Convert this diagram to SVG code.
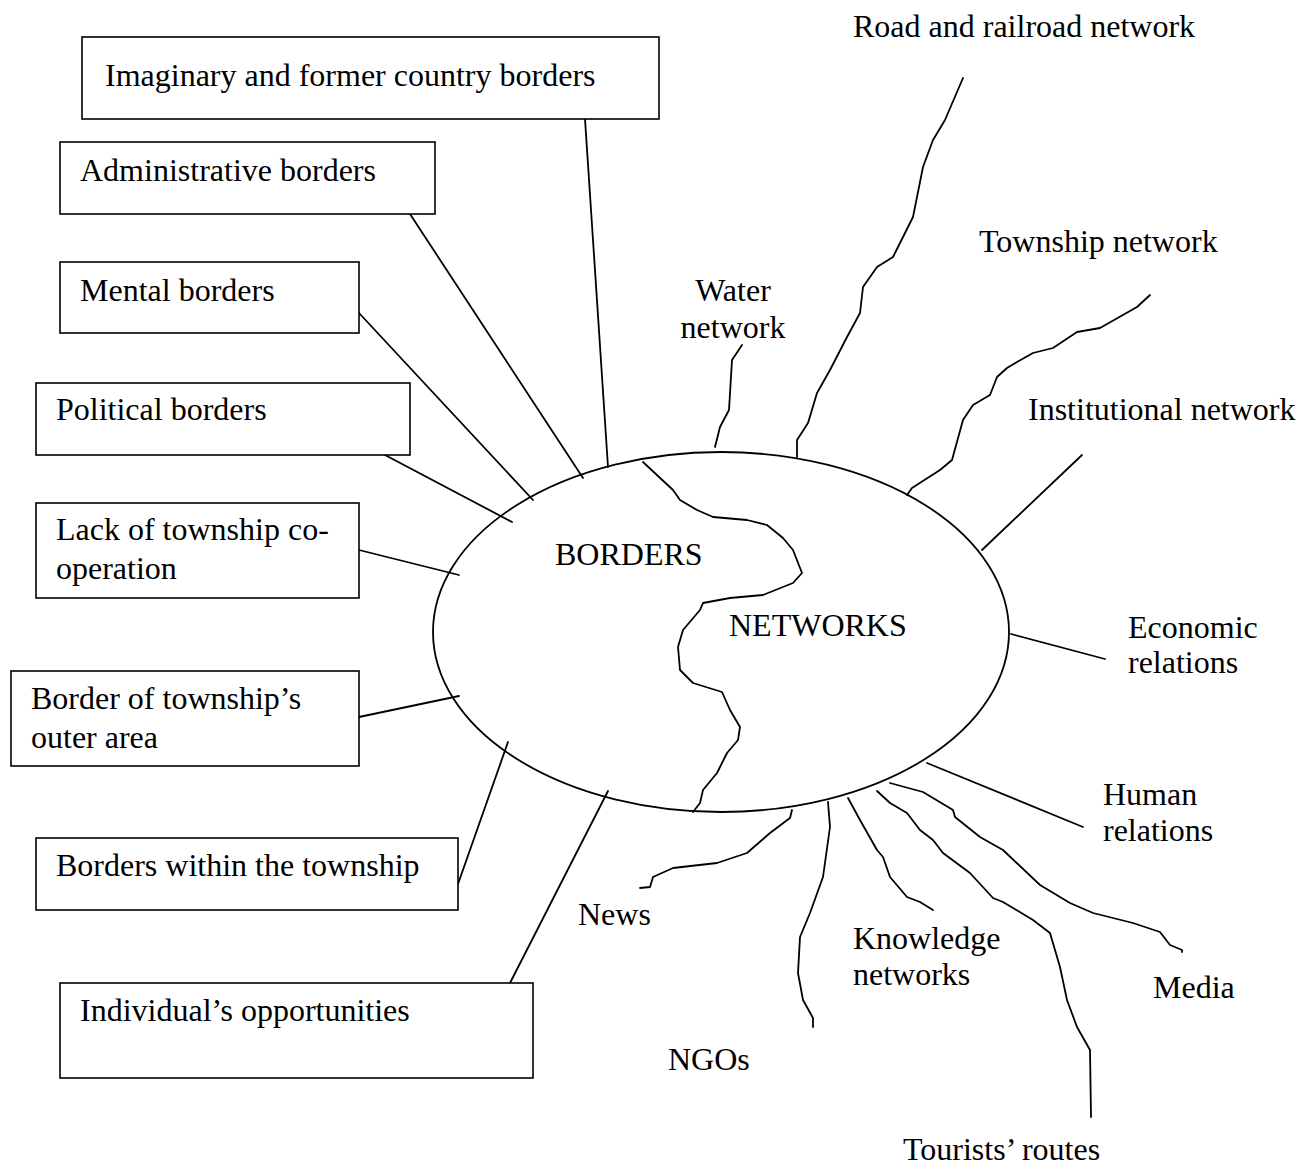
<svg xmlns="http://www.w3.org/2000/svg" width="1310" height="1172" viewBox="0 0 1310 1172">
<style>
text{font-family:"Liberation Serif","Times New Roman",serif;font-size:32px;fill:#000}
.box{fill:#fff;stroke:#000;stroke-width:1.6}
.ln{fill:none;stroke:#000;stroke-width:1.8;stroke-linejoin:round;stroke-linecap:round}
</style>
<rect width="1310" height="1172" fill="#fff"/>
<g id="connectors">
<line class="ln" x1="585" y1="119" x2="608" y2="467"/>
<line class="ln" x1="410" y1="214" x2="583" y2="478"/>
<line class="ln" x1="359" y1="313" x2="533" y2="500"/>
<line class="ln" x1="385" y1="455" x2="512" y2="522"/>
<line class="ln" x1="359" y1="550" x2="459" y2="575"/>
<line class="ln" x1="359" y1="717" x2="459" y2="696"/>
<line class="ln" x1="458" y1="884" x2="508" y2="742"/>
<line class="ln" x1="510" y1="983" x2="608" y2="791"/>
<line class="ln" x1="1082" y1="455" x2="982" y2="550"/>
<line class="ln" x1="1011" y1="634" x2="1105" y2="659"/>
<line class="ln" x1="927" y1="763" x2="1083" y2="827"/>
<path class="ln" d="M963,78 L945,120 L933,140 L923,167 L913,217 L898,247 L893,257 L877,267 L863,287 L860,313 L847,337 L830,370 L817,393 L808,423 L797,440 L797,457"/>
<path class="ln" d="M1150,295 L1137,307 L1100,328 L1077,332 L1053,348 L1033,353 L1017,362 L1007,368 L997,377 L990,395 L973,405 L963,420 L952,460 L940,470 L912,488 L907,495"/>
<path class="ln" d="M742,345 L732,360 L729,410 L720,427 L715,447"/>
<path class="ln" d="M792,810 L790,818 L770,833 L747,853 L717,863 L673,868 L653,877 L650,887 L640,888"/>
<path class="ln" d="M828,802 L830,827 L823,877 L810,913 L800,937 L798,973 L803,1000 L813,1018 L813,1027"/>
<path class="ln" d="M848,798 L860,820 L877,850 L883,857 L890,877 L907,897 L920,902 L933,910"/>
<path class="ln" d="M877,791 L890,803 L907,813 L920,830 L933,840 L943,853 L970,873 L993,898 L1003,902 L1033,920 L1050,933 L1060,967 L1067,1000 L1077,1027 L1090,1050 L1091,1117"/>
<path class="ln" d="M890,783 L923,792 L953,810 L955,817 L980,837 L1003,850 L1040,885 L1070,903 L1093,913 L1133,923 L1160,932 L1170,945 L1182,950 L1182,952"/>
</g>
<g id="center">
<ellipse cx="721" cy="632" rx="288" ry="180" fill="none" stroke="#000" stroke-width="1.8"/>
<path class="ln" d="M643,462 L673,490 L680,500 L697,510 L713,517 L747,520 L767,525 L783,538 L793,550 L802,573 L793,583 L763,595 L730,598 L703,603 L700,610 L683,630 L678,647 L680,670 L693,683 L722,692 L730,710 L740,727 L738,740 L727,753 L717,773 L703,790 L700,803 L693,812"/>
<text x="555" y="565">BORDERS</text>
<text x="729" y="636">NETWORKS</text>
</g>
<g id="n1"><rect class="box" x="82" y="37" width="577" height="82"/><text x="105" y="86">Imaginary and former country borders</text></g>
<g id="n2"><rect class="box" x="60" y="142" width="375" height="72"/><text x="80" y="181">Administrative borders</text></g>
<g id="n3"><rect class="box" x="60" y="262" width="299" height="71"/><text x="80" y="301">Mental borders</text></g>
<g id="n4"><rect class="box" x="36" y="383" width="374" height="72"/><text x="56" y="420">Political borders</text></g>
<g id="n5"><rect class="box" x="36" y="503" width="323" height="95"/><text x="56" y="540">Lack of township co-</text><text x="56" y="579">operation</text></g>
<g id="n6"><rect class="box" x="11" y="671" width="348" height="95"/><text x="31" y="709">Border of township’s</text><text x="31" y="748">outer area</text></g>
<g id="n7"><rect class="box" x="36" y="838" width="422" height="72"/><text x="56" y="876">Borders within the township</text></g>
<g id="n8"><rect class="box" x="60" y="983" width="473" height="95"/><text x="80" y="1021">Individual’s opportunities</text></g>
<g id="l-road"><text x="853" y="37">Road and railroad network</text></g>
<g id="l-water"><text x="733" y="301" text-anchor="middle">Water</text><text x="733" y="338" text-anchor="middle">network</text></g>
<g id="l-township"><text x="979" y="252">Township network</text></g>
<g id="l-inst"><text x="1028" y="420">Institutional network</text></g>
<g id="l-econ"><text x="1128" y="638">Economic</text><text x="1128" y="673">relations</text></g>
<g id="l-human"><text x="1103" y="805">Human</text><text x="1103" y="841">relations</text></g>
<g id="l-news"><text x="578" y="925">News</text></g>
<g id="l-ngo"><text x="668" y="1070">NGOs</text></g>
<g id="l-know"><text x="853" y="949">Knowledge</text><text x="853" y="985">networks</text></g>
<g id="l-media"><text x="1153" y="998">Media</text></g>
<g id="l-tour"><text x="903" y="1160">Tourists’ routes</text></g>
</svg>
